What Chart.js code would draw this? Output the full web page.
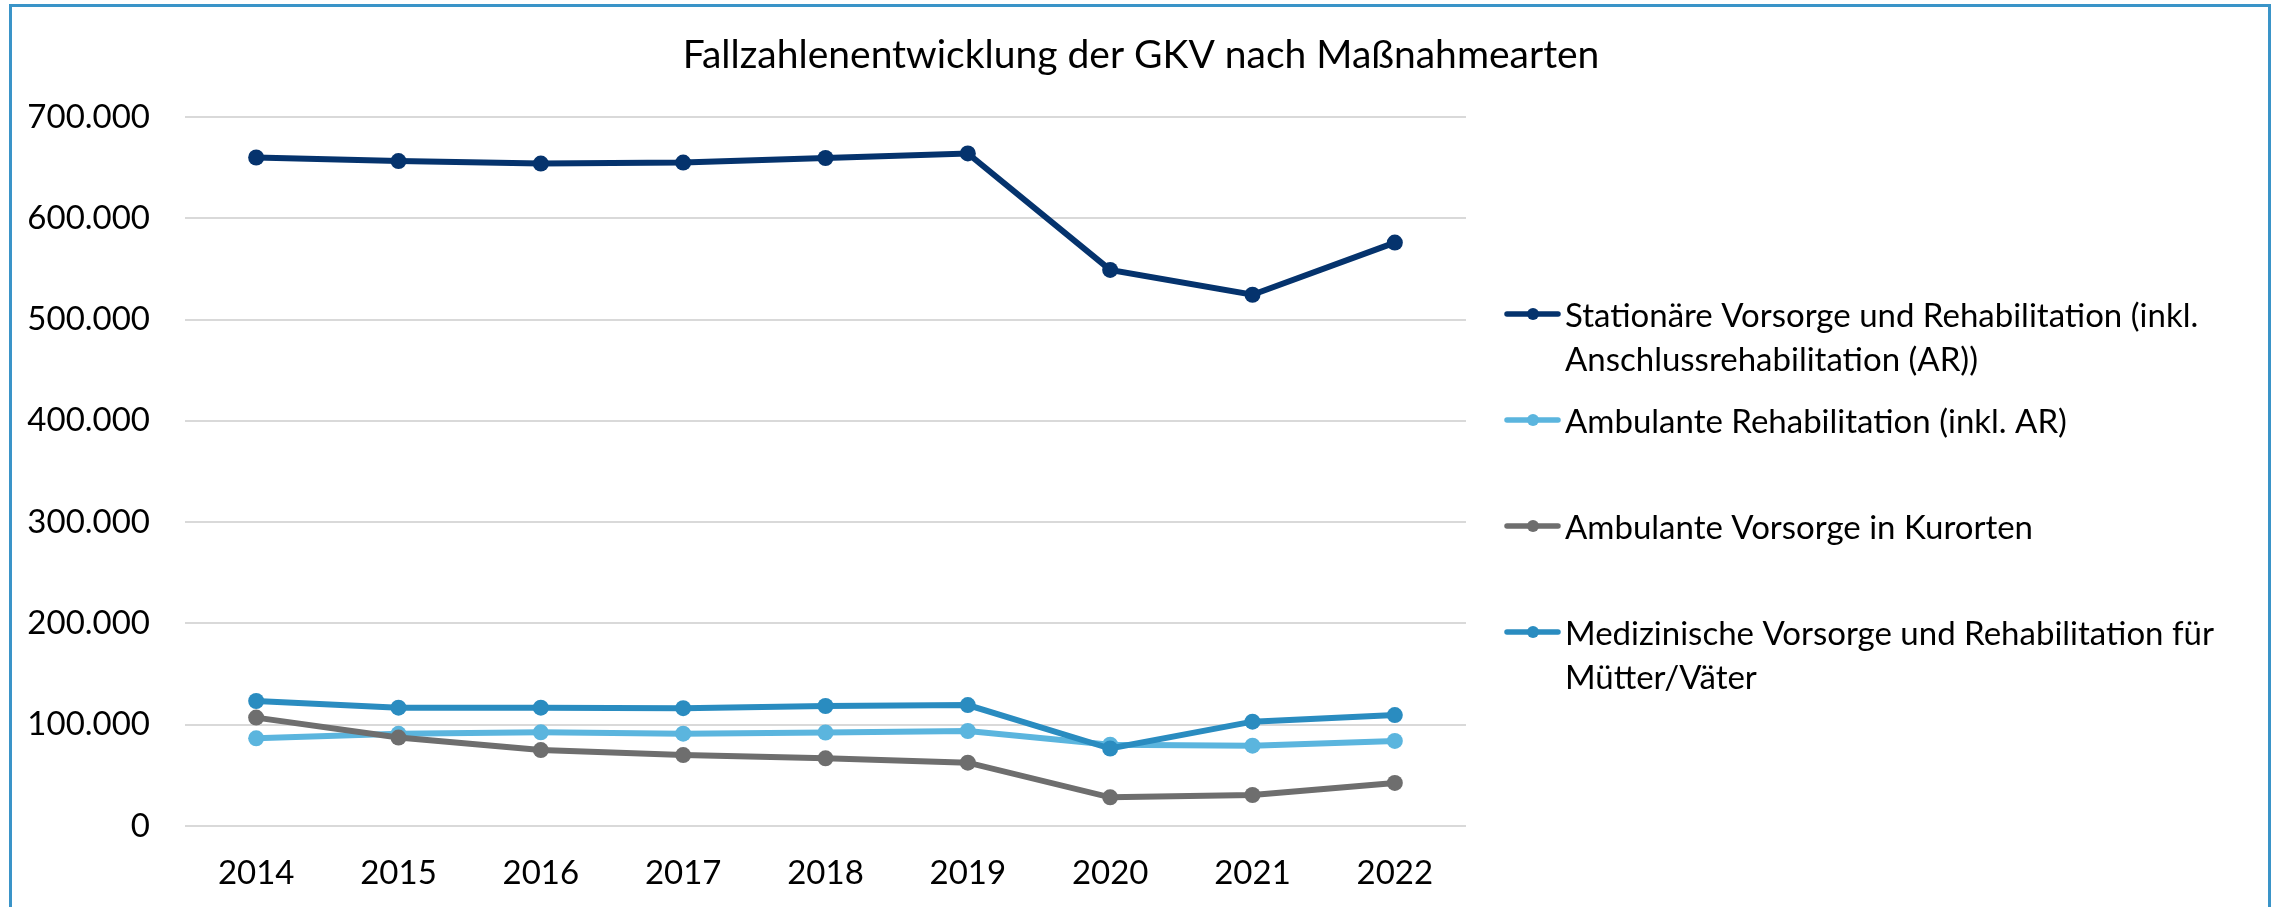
<!DOCTYPE html>
<html><head><meta charset="utf-8">
<script src="https://cdn.jsdelivr.net/npm/chart.js@4"></script>
<style>html,body{margin:0;padding:0;background:#fff;overflow:hidden}canvas{display:block}</style>
</head><body><canvas id="c" width="2282" height="907"></canvas>
<script>
// ---- data ----
const categories = ['2014','2015','2016','2017','2018','2019','2020','2021','2022'];
const seriesNames = [
  ['Stationäre Vorsorge und Rehabilitation (inkl.', 'Anschlussrehabilitation (AR))'],
  ['Ambulante Rehabilitation (inkl. AR)'],
  ['Ambulante Vorsorge in Kurorten'],
  ['Medizinische Vorsorge und Rehabilitation für', 'Mütter/Väter']
];
const stationaer   = [660000, 656500, 654000, 655000, 659500, 664000, 549000, 524500, 576000];
const ambulantReha = [86600, 91000, 92500, 91200, 92300, 93800, 80300, 79300, 84000];
const kurorte      = [107000, 87300, 75000, 70000, 66800, 62500, 28300, 30600, 42500];
const muetterVaeter= [123400, 116800, 116800, 116300, 118500, 119400, 76500, 103000, 109500];
const yTickValues  = [0, 100000, 200000, 300000, 400000, 500000, 600000, 700000];
const chartTitle   = 'Fallzahlenentwicklung der GKV nach Maßnahmearten';

// ---- styles ----
const colors = ['#05336d', '#5bb5de', '#6e6e6e', '#2a8cc0'];
const FONT = 'Lato, "Open Sans", sans-serif';
const fmt = v => String(v).replace(/\B(?=(\d{3})+(?!\d))/g, '.');

const seriesData = [stationaer, ambulantReha, kurorte, muetterVaeter];

const datasets = seriesData.map((d, i) => ({
  label: seriesNames[i].join(' '),
  data: d,
  borderColor: colors[i],
  backgroundColor: colors[i],
  borderWidth: 6,
  pointRadius: 8,
  pointHoverRadius: 8,
  pointBorderWidth: 0,
  pointBackgroundColor: colors[i],
  tension: 0,
  order: 4 - i
}));

const decor = {
  id: 'decor',
  beforeDraw(chart) {
    const ctx = chart.ctx;
    ctx.save();
    ctx.fillStyle = '#fff';
    ctx.fillRect(0, 0, chart.width, chart.height);
    ctx.restore();
  },
  afterDraw(chart) {
    const ctx = chart.ctx;
    ctx.save();
    // frame
    ctx.strokeStyle = '#3a94c8';
    ctx.lineWidth = 3;
    ctx.strokeRect(10.5, 5.5, 2259, 960);
    // title
    ctx.fillStyle = '#000';
    ctx.font = '39px ' + FONT;
    ctx.textAlign = 'center';
    ctx.textBaseline = 'alphabetic';
    ctx.fillText(chartTitle, 1141, 68);
    // legend
    const ys = [314, 420, 526, 632];
    ctx.font = '33px ' + FONT;
    ctx.textAlign = 'left';
    seriesNames.forEach((lines, i) => {
      const y = ys[i];
      ctx.strokeStyle = colors[i];
      ctx.lineWidth = 5.5;
      ctx.lineCap = 'round';
      ctx.beginPath();
      ctx.moveTo(1507, y); ctx.lineTo(1558, y); ctx.stroke();
      ctx.fillStyle = colors[i];
      ctx.beginPath(); ctx.arc(1533, y, 6, 0, Math.PI * 2); ctx.fill();
      ctx.fillStyle = '#000';
      lines.forEach((t, k) => ctx.fillText(t, 1565, y + 13 + k * 44));
    });
    ctx.restore();
  }
};

new Chart(document.getElementById('c'), {
  type: 'line',
  data: { labels: categories, datasets },
  plugins: [decor],
  options: {
    responsive: false,
    animation: false,
    devicePixelRatio: 1,
    layout: { padding: { left: 0, right: 2282 - 1466, top: 117, bottom: 0 } },
    plugins: { legend: { display: false }, title: { display: false }, tooltip: { enabled: false } },
    scales: {
      x: {
        offset: true,
        grid: { display: false, drawTicks: false },
        border: { display: false },
        ticks: { color: '#000', font: { family: FONT, size: 33 }, padding: 28, maxRotation: 0 },
        afterFit: s => { s.height = 907 - 826; }
      },
      y: {
        min: 0, max: 700000,
        afterBuildTicks: s => { s.ticks = yTickValues.map(v => ({ value: v })); },
        grid: { color: '#d9d9d9', lineWidth: 2, drawTicks: false },
        border: { display: false },
        ticks: { color: '#000', font: { family: FONT, size: 33 }, padding: 35, callback: v => fmt(v) },
        afterFit: s => { s.width = 185; }
      }
    }
  }
});
</script>
</body></html>
